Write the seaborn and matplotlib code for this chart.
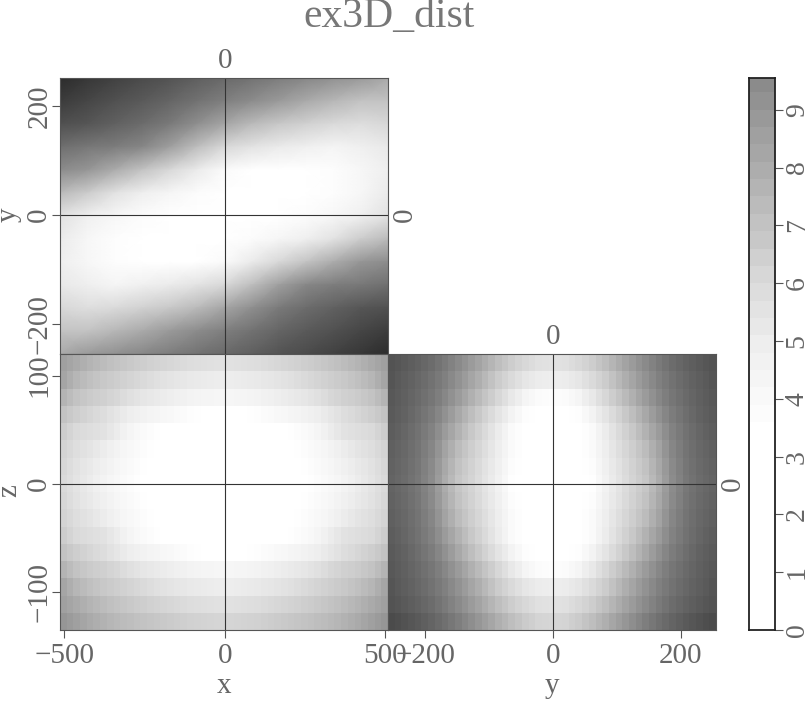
import seaborn as sns
import matplotlib.pyplot as plt
import numpy as np
from matplotlib.colors import LinearSegmentedColormap

# axis ranges
x_range = (-514, 508)
y_range = (-258, 255)
y_range_top = (-256, 252.5)
z_range = (-135, 120)

# top panel, one list per column from left to right, top to bottom inside
top_cols = [
    [15.5, 14.3, 12.8, 10.9, 9.4, 7.4, 5.6, 5.1, 4.9, 5.2, 6.1, 7.0, 8.1],
    [14.7, 13.5, 12.3, 10.4, 9.0, 6.6, 4.8, 4.2, 4.2, 4.9, 5.8, 7.0, 8.8],
    [13.9, 12.7, 11.6, 10.1, 8.0, 5.6, 4.2, 3.6, 3.6, 4.4, 6.0, 7.5, 9.2],
    [13.1, 12.0, 11.0, 9.6, 7.0, 4.9, 3.8, 3.3, 3.3, 4.8, 6.4, 8.1, 9.6],
    [12.5, 11.4, 10.3, 8.6, 6.1, 4.3, 3.3, 3.3, 3.3, 5.1, 6.8, 8.8, 10.1],
    [11.7, 10.7, 9.3, 7.2, 5.1, 3.8, 3.3, 3.3, 3.3, 5.5, 7.4, 9.4, 10.7],
    [11.2, 10.0, 8.3, 6.1, 4.0, 3.3, 3.3, 3.3, 4.0, 6.1, 8.3, 10.0, 11.2],
    [10.7, 9.4, 7.4, 5.5, 3.3, 3.3, 3.3, 3.8, 5.1, 7.2, 9.3, 10.7, 11.7],
    [10.1, 8.8, 6.8, 5.1, 3.3, 3.3, 3.3, 4.3, 6.1, 8.6, 10.3, 11.4, 12.5],
    [9.6, 8.1, 6.4, 4.8, 3.3, 3.3, 3.8, 4.9, 7.0, 9.6, 11.0, 12.0, 13.1],
    [9.2, 7.5, 6.0, 4.4, 3.6, 3.6, 4.2, 5.6, 8.0, 10.1, 11.6, 12.7, 13.9],
    [8.8, 7.0, 5.8, 4.8, 4.2, 4.2, 4.8, 6.6, 9.0, 10.4, 12.3, 13.5, 14.7],
    [8.1, 7.0, 6.1, 5.2, 4.9, 5.1, 5.6, 7.4, 9.4, 10.9, 12.8, 14.3, 15.5],
]

xz_rows = [
    [160, 165, 170, 175, 180, 184, 188, 192, 195, 198, 201, 204, 206, 209, 211, 213, 215, 217, 219, 221, 222, 223, 224, 225, 225],
    [165, 174, 182, 187, 192, 196, 200, 203, 206, 209, 212, 215, 218, 221, 224, 226, 228, 230, 231, 233, 234, 235, 236, 237, 237],
    [180, 188, 195, 199, 203, 206, 208, 212, 215, 220, 224, 227, 230, 232, 234, 236, 238, 240, 241, 243, 244, 245, 245, 246, 246],
    [195, 201, 206, 210, 214, 218, 221, 226, 230, 234, 238, 240, 242, 244, 245, 247, 248, 250, 251, 253, 254, 255, 255, 255, 255],
    [205, 212, 218, 220, 222, 224, 226, 231, 236, 241, 245, 248, 250, 252, 254, 255, 255, 255, 255, 255, 255, 255, 255, 255, 255],
    [212, 217, 222, 225, 228, 232, 236, 240, 243, 246, 248, 250, 252, 254, 255, 255, 255, 255, 255, 255, 255, 255, 255, 255, 255],
    [215, 221, 226, 230, 233, 237, 240, 243, 246, 248, 250, 252, 254, 255, 255, 255, 255, 255, 255, 255, 255, 255, 255, 255, 255],
    [218, 223, 228, 232, 236, 240, 243, 246, 248, 250, 252, 254, 255, 255, 255, 255, 255, 255, 255, 255, 255, 255, 255, 255, 255],
]
xz_last = [150, 155, 160, 165, 170, 174, 178, 182, 185, 188, 190, 193, 195, 197, 199, 201, 203, 205, 207, 209, 210, 211, 212, 213, 213]

yz_rows = [
    [83, 86, 90, 94, 98, 103, 108, 115, 122, 130, 138, 146, 155, 163, 172, 181, 190, 197, 205, 211, 216, 220, 224, 225, 226],
    [85, 90, 94, 98, 103, 108, 114, 121, 128, 137, 146, 155, 165, 174, 184, 194, 204, 211, 218, 224, 230, 233, 236, 237, 238],
    [88, 92, 96, 101, 106, 112, 118, 126, 135, 145, 155, 165, 176, 186, 196, 205, 215, 223, 232, 238, 245, 248, 251, 252, 253],
    [90, 94, 98, 104, 110, 117, 124, 134, 145, 156, 168, 179, 190, 200, 210, 219, 228, 235, 243, 248, 253, 254, 255, 255, 255],
    [93, 97, 102, 108, 114, 122, 130, 142, 155, 166, 178, 189, 200, 209, 218, 227, 236, 243, 250, 253, 255, 255, 255, 255, 255],
    [96, 100, 104, 110, 116, 125, 134, 148, 163, 175, 188, 197, 206, 214, 222, 230, 238, 244, 250, 253, 255, 255, 255, 255, 255],
    [98, 102, 106, 112, 118, 128, 138, 153, 168, 181, 194, 202, 210, 218, 226, 233, 240, 246, 252, 254, 255, 255, 255, 255, 255],
    [100, 104, 108, 114, 120, 130, 140, 156, 172, 185, 198, 205, 212, 220, 228, 235, 242, 248, 254, 255, 255, 255, 255, 255, 255],
]
yz_last = [75, 78, 82, 86, 90, 95, 100, 106, 112, 119, 126, 134, 142, 150, 158, 166, 175, 182, 190, 196, 203, 207, 212, 213, 214]

# colour bar bands, bottom to top
bar_levels = [0.15, 0.45, 0.75, 1.05, 1.35, 1.65, 1.95, 2.25, 2.55, 2.85, 3.15,
              3.45, 3.75, 4.05, 4.35, 4.65, 4.95, 5.25, 5.55, 5.85, 6.15, 6.45,
              6.75, 7.05, 7.35, 7.65, 7.95, 8.25, 8.55, 8.85, 9.15, 9.45]
bar_ticks = [0, 1, 2, 3, 4, 5, 6, 7, 8, 9]

# grey level at each value
cmap_values = [0, 3.4, 4, 5, 6, 7, 8, 9, 9.6, 12, 16]
cmap_greys = [255, 255, 250, 237, 218, 195, 172, 150, 135, 90, 38]

W, H = 808, 701
TEXT = '#666666'
LINE = '#555555'
FS = 21

plt.rcParams['font.family'] = ['Liberation Serif', 'DejaVu Serif']

vmax = 16
cmap = LinearSegmentedColormap.from_list(
    'grey_scale',
    [(v / vmax, (g / 255, g / 255, g / 255)) for v, g in zip(cmap_values, cmap_greys)],
    N=512)


def full_grid(rows, last):
    # grey readings to values on the colour bar scale
    half = rows + rows[-2::-1] + [last]
    grey = np.array([r + r[-2::-1] for r in half])
    return np.interp(grey, cmap_greys[:0:-1], cmap_values[:0:-1])


def panel(left, top, right, bottom):
    return fig.add_axes([left / W, 1 - bottom / H, (right - left) / W, (bottom - top) / H])


def to_index(values, rng, n):
    return [(v - rng[0]) / (rng[1] - rng[0]) * n for v in values]


def style(ax, xticks=None, xlabels=None, yticks=None, ylabels=None):
    for s in ax.spines.values():
        s.set_visible(True)
        s.set_color(LINE)
        s.set_linewidth(0.8)
    ax.set_xticks(xticks if xticks else [])
    ax.set_yticks(yticks if yticks else [])
    if xticks:
        ax.set_xticklabels(xlabels, fontsize=FS, color=TEXT)
    if yticks:
        ax.set_yticklabels(ylabels, fontsize=FS, color=TEXT, rotation=90, va='center')
    ax.tick_params(axis='x', length=6, width=0.8, color=LINE, pad=3.5)
    ax.tick_params(axis='y', length=6, width=0.8, color=LINE, pad=-0.5)


def cross(ax, xpos, ypos):
    ax.axvline(xpos, color='#333333', lw=0.8)
    ax.axhline(ypos, color='#333333', lw=0.8)
    ax.annotate('0', xy=(xpos, 1), xycoords=('data', 'axes fraction'), xytext=(0, 3),
                textcoords='offset points', ha='center', va='bottom', fontsize=FS, color=TEXT)
    ax.annotate('0', xy=(1, ypos), xycoords=('axes fraction', 'data'), xytext=(3, 0),
                textcoords='offset points', ha='left', va='center', rotation=90,
                fontsize=FS, color=TEXT)


fig = plt.figure(figsize=(W / 100, H / 100), dpi=100)
fig.text(389 / W, 1 - 17 / H, 'ex3D_dist', ha='center', va='center', fontsize=30, color='#777777')

# top panel
top_data = np.array(top_cols).T
ax_top = panel(60, 78, 388, 354)
sns.heatmap(top_data, ax=ax_top, cmap=cmap, vmin=0, vmax=vmax, cbar=False,
            xticklabels=False, yticklabels=False, shading='gouraud')
n_r, n_c = top_data.shape
ax_top.set_xlim(0, n_c - 1)
ax_top.set_ylim(n_r - 1, 0)
top_ticks = [200, 0, -200]
top_pos = [(n_r - 1) * (y_range_top[1] - t) / (y_range_top[1] - y_range_top[0]) for t in top_ticks]
style(ax_top, yticks=top_pos, ylabels=['200', '0', '\u2212200'])
cross(ax_top, to_index([0], x_range, n_c - 1)[0], top_pos[1])
fig.text(9 / W, 1 - 215 / H, 'y', rotation=90, ha='center', va='center', fontsize=FS, color=TEXT)

# bottom left panel, x against z
xz_data = full_grid(xz_rows, xz_last)
ax_xz = panel(60, 354, 388, 630)
sns.heatmap(xz_data, ax=ax_xz, cmap=cmap, vmin=0, vmax=vmax, cbar=False,
            xticklabels=False, yticklabels=False)
n_r, n_c = xz_data.shape
xz_xpos = to_index([-500, 0, 500], x_range, n_c)
z_pos = [n_r * (z_range[1] - t) / (z_range[1] - z_range[0]) for t in [100, 0, -100]]
style(ax_xz, xticks=xz_xpos, xlabels=['\u2212500', '0', '500'],
      yticks=z_pos, ylabels=['100', '0', '\u2212100'])
ax_xz.set_xlabel('x', fontsize=FS, color=TEXT, labelpad=3)
ax_xz.axvline(xz_xpos[1], color='#333333', lw=0.8)
ax_xz.axhline(z_pos[1], color='#333333', lw=0.8)
fig.text(9 / W, 1 - 491 / H, 'z', rotation=90, ha='center', va='center', fontsize=FS, color=TEXT)

# bottom right panel, y against z
yz_data = full_grid(yz_rows, yz_last)
ax_yz = panel(388, 354, 716, 630)
sns.heatmap(yz_data, ax=ax_yz, cmap=cmap, vmin=0, vmax=vmax, cbar=False,
            xticklabels=False, yticklabels=False)
yz_xpos = to_index([-200, 0, 200], y_range, yz_data.shape[1])
style(ax_yz, xticks=yz_xpos, xlabels=['\u2212200', '0', '200'])
ax_yz.set_xlabel('y', fontsize=FS, color=TEXT, labelpad=3)
cross(ax_yz, yz_xpos[1], z_pos[1])

# colour bar
ax_bar = panel(749, 78, 775, 630)
sns.heatmap(np.array(bar_levels).reshape(-1, 1), ax=ax_bar, cmap=cmap, vmin=0, vmax=vmax,
            cbar=False, xticklabels=False, yticklabels=False)
ax_bar.set_ylim(0, 9.55 / 0.3)
ax_bar.set_xticks([])
ax_bar.yaxis.tick_right()
ax_bar.set_yticks([t / 0.3 for t in bar_ticks])
ax_bar.set_yticklabels([str(t) for t in bar_ticks], fontsize=FS - 1, color=TEXT, rotation=90, va='center')
ax_bar.tick_params(axis='y', length=6, width=0.8, color=LINE, pad=1)
for s in ax_bar.spines.values():
    s.set_visible(True)
    s.set_color('#222222')
    s.set_linewidth(1.3)

fig.savefig('out.png', dpi=100)
